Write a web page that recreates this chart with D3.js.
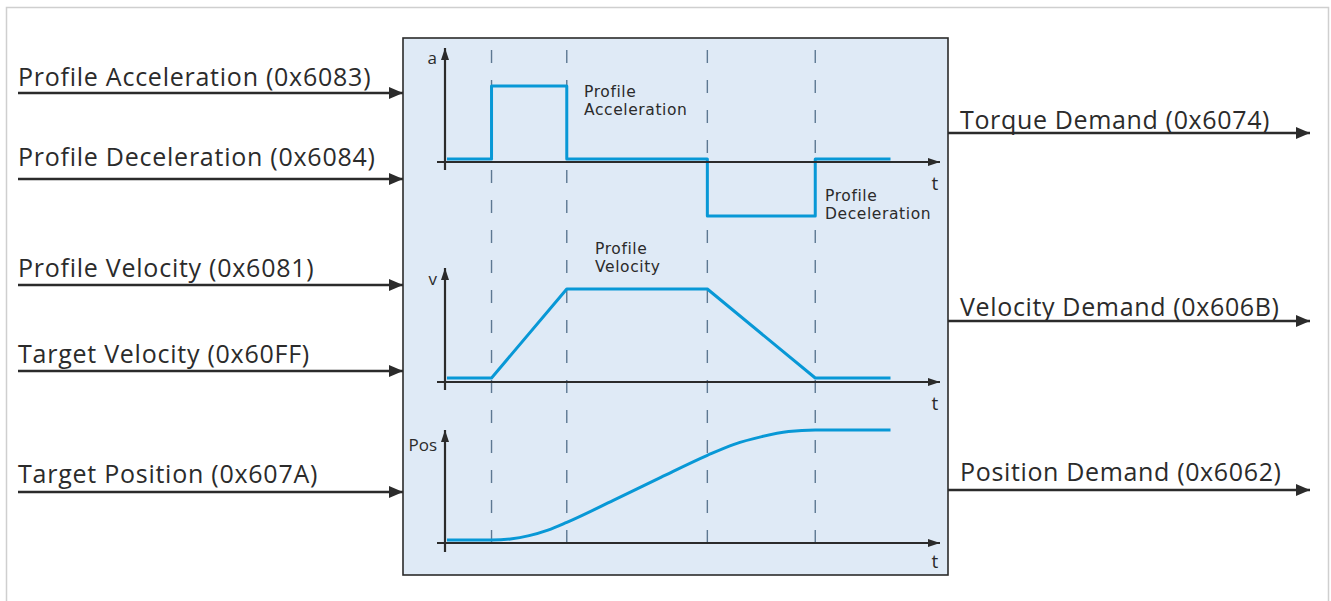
<!DOCTYPE html>
<html>
<head>
<meta charset="utf-8">
<script src="https://cdn.jsdelivr.net/npm/d3@7"></script>
<style>
  body { margin: 0; background: #fff; }
  text { font-family: "Open Sans", sans-serif; fill: #2b2b2b; }
  text.note { font-family: "DejaVu Sans", sans-serif; }
</style>
</head>
<body>
<div id="chart-area"></div>
<script>
// Data
const inputLabels = ["Profile Acceleration (0x6083)", "Profile Deceleration (0x6084)",
	"Profile Velocity (0x6081)", "Target Velocity (0x60FF)", "Target Position (0x607A)"];
const outputLabels = ["Torque Demand (0x6074)", "Velocity Demand (0x606B)", "Position Demand (0x6062)"];

const eventTimes = [47, 123, 265, 374];   // dashed phase boundaries

const accelT = [2, 47, 47, 123, 123, 265, 265, 374, 374, 450];
const accelV = [0, 0, 100, 100, 0, 0, -78, -78, 0, 0];

const velT = [2, 47, 123, 265, 374, 450];
const velV = [0, 0, 100, 100, 0, 0];

const posT = [2, 47, 66, 85, 104, 123, 170, 218, 265, 292, 320, 347, 374, 450];
const posV = [0, 0, 1, 4, 9, 16, 36, 57, 77, 87, 94, 98.6, 100, 100];

// SVG size
let width = 1331,
	height = 601;

const ink = "#2b2b2b";
const signalColor = "#0898d6";

let svg = d3.select("#chart-area")
	.append("svg")
	.attr("width", width)
	.attr("height", height);

// arrow markers
const defs = svg.append("defs");
defs.append("marker")
	.attr("id", "bigArrow")
	.attr("viewBox", "0 0 14 12")
	.attr("refX", 14).attr("refY", 6)
	.attr("markerWidth", 14).attr("markerHeight", 12)
	.attr("markerUnits", "userSpaceOnUse")
	.attr("orient", "auto")
	.append("path").attr("d", "M0,0L14,6L0,12Z").attr("fill", ink);
defs.append("marker")
	.attr("id", "smallArrow")
	.attr("viewBox", "0 0 12 8")
	.attr("refX", 12).attr("refY", 4)
	.attr("markerWidth", 12).attr("markerHeight", 8)
	.attr("markerUnits", "userSpaceOnUse")
	.attr("orient", "auto")
	.append("path").attr("d", "M0,0L12,4L0,8Z").attr("fill", ink);

// outer frame (bottom edge runs off the page)
svg.append("rect")
	.attr("x", 6.5).attr("y", 7.5)
	.attr("width", 1322).attr("height", 640)
	.attr("fill", "none")
	.attr("stroke", "#cfcfcf")
	.attr("stroke-width", 1.5);

// central block
const box = {x0: 403, x1: 948, y0: 38, y1: 575};
svg.append("rect")
	.attr("x", box.x0).attr("y", box.y0)
	.attr("width", box.x1 - box.x0).attr("height", box.y1 - box.y0)
	.attr("fill", "#dfeaf6")
	.attr("stroke", ink)
	.attr("stroke-width", 1.6);

// shared time scale
const x = d3.scaleLinear().domain([0, 500]).range([445, 940]);

// dashed phase lines
svg.selectAll(".phase")
	.data(eventTimes)
	.enter()
	.append("line")
	.attr("class", "phase")
	.attr("x1", d => x(d)).attr("x2", d => x(d))
	.attr("y1", 50).attr("y2", 556)
	.attr("stroke", "#5d7892")
	.attr("stroke-width", 1.4)
	.attr("stroke-dasharray", "13,17");

// one panel per signal
const panels = [
	{t: accelT, v: accelV, y: d3.scaleLinear().domain([0, 100]).range([159, 86]),
		axisY: 162, top: 48, bottom: 170, label: "a", lx: 437, ly: 64, tLabelY: 190, curve: d3.curveLinear},
	{t: velT, v: velV, y: d3.scaleLinear().domain([0, 100]).range([378, 289]),
		axisY: 382, top: 268, bottom: 390, label: "v", lx: 437, ly: 285, tLabelY: 410, curve: d3.curveLinear},
	{t: posT, v: posV, y: d3.scaleLinear().domain([0, 100]).range([540, 430]),
		axisY: 543, top: 430, bottom: 552, label: "Pos", lx: 437, ly: 451, tLabelY: 568, curve: d3.curveMonotoneX}
];

panels.forEach(p => {
	const g = svg.append("g");

	// signal
	const line = d3.line()
		.x(i => x(p.t[i]))
		.y(i => p.y(p.v[i]))
		.curve(p.curve);
	g.append("path")
		.attr("d", line(d3.range(p.t.length)))
		.attr("fill", "none")
		.attr("stroke", signalColor)
		.attr("stroke-width", 3)
		.attr("stroke-linejoin", "round");

	// axes
	g.append("line")
		.attr("x1", x(0) - 8).attr("x2", x(500))
		.attr("y1", p.axisY).attr("y2", p.axisY)
		.attr("stroke", ink).attr("stroke-width", 2.2)
		.attr("marker-end", "url(#smallArrow)");
	g.append("line")
		.attr("x1", x(0)).attr("x2", x(0))
		.attr("y1", p.bottom).attr("y2", p.top)
		.attr("stroke", ink).attr("stroke-width", 2.2)
		.attr("marker-end", "url(#smallArrow)");

	g.append("text")
		.attr("x", p.lx).attr("y", p.ly)
		.attr("text-anchor", "end")
		.style("font-size", "17px")
		.text(p.label);
	g.append("text")
		.attr("x", 935).attr("y", p.tLabelY)
		.attr("text-anchor", "middle")
		.style("font-size", "19px")
		.text("t");
});

// annotations inside the block
const notes = [
	{x: 584, y: 97, lines: ["Profile", "Acceleration"]},
	{x: 825, y: 201, lines: ["Profile", "Deceleration"]},
	{x: 595, y: 254, lines: ["Profile", "Velocity"]}
];
notes.forEach(n => {
	n.lines.forEach((s, i) => {
		svg.append("text")
			.attr("class", "note")
			.attr("x", n.x)
			.attr("y", n.y + i * 18)
			.style("font-size", "15.5px")
			.style("letter-spacing", "0.6px")
			.text(s);
	});
});

// input arrows (left)
const inputLineY = [93, 179, 285, 371, 492];
const inputTextY = [86, 166, 277, 363, 483];
inputLabels.forEach((s, i) => {
	svg.append("line")
		.attr("x1", 18).attr("x2", box.x0)
		.attr("y1", inputLineY[i]).attr("y2", inputLineY[i])
		.attr("stroke", ink).attr("stroke-width", 2.4)
		.attr("marker-end", "url(#bigArrow)");
	svg.append("text")
		.attr("x", 18).attr("y", inputTextY[i])
		.style("font-size", "25px")
		.style("letter-spacing", "0.75px")
		.text(s);
});

// output arrows (right)
const outputLineY = [133, 321, 490];
const outputTextY = [129, 316, 481];
outputLabels.forEach((s, i) => {
	svg.append("line")
		.attr("x1", box.x1).attr("x2", 1310)
		.attr("y1", outputLineY[i]).attr("y2", outputLineY[i])
		.attr("stroke", ink).attr("stroke-width", 2.4)
		.attr("marker-end", "url(#bigArrow)");
	svg.append("text")
		.attr("x", 960).attr("y", outputTextY[i])
		.style("font-size", "25px")
		.style("letter-spacing", "0.65px")
		.text(s);
});
</script>
</body>
</html>
